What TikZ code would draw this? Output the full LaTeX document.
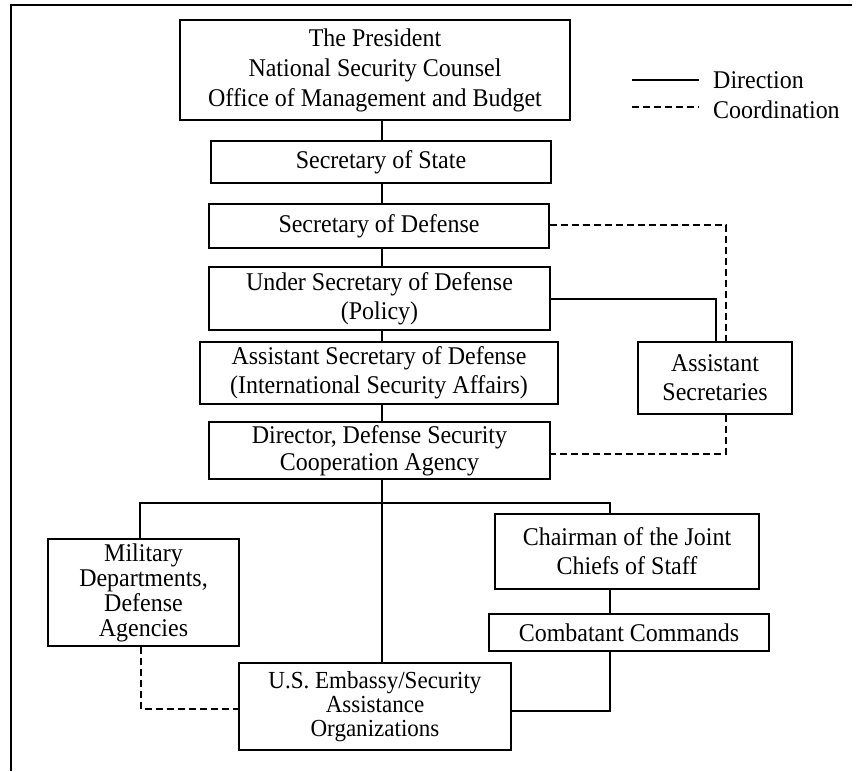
\documentclass[tikz,border=0pt]{standalone}
\usepackage{fontspec}
\setmainfont{Liberation Serif}[FakeStretch=0.94]
\begin{document}
\begin{tikzpicture}[x=1pt,y=1pt,
  box/.style={draw,line width=1.2pt,inner sep=0pt,align=center,
    font=\fontsize{25.5}{29}\selectfont},
  link/.style={line width=1.2pt},
  coord/.style={line width=1.2pt,dash pattern=on 7pt off 4pt},
  legtext/.style={anchor=base west,inner sep=0pt,font=\fontsize{25.5}{29}\selectfont}]
\useasboundingbox (0,0) rectangle (856,-771);
\draw[line width=2pt] (11,-771) -- (11,-5) -- (852,-5);

\node[box,minimum width=390,minimum height=100,font=\fontsize{25.5}{30}\selectfont] (pres) at (375,-70)
  {The President\\National Security Counsel\\Office of Management and Budget};
\node[box,minimum width=340,minimum height=42] (sos) at (381,-162) {Secretary of State};
\node[box,minimum width=340,minimum height=44] (sod) at (379,-226) {Secretary of Defense};
\node[box,minimum width=341,minimum height=63] (usd) at (379.5,-298.5)
  {Under Secretary of Defense\\(Policy)};
\node[box,minimum width=358,minimum height=62] (asd) at (379,-373)
  {Assistant Secretary of Defense\\(International Security Affairs)};
\node[box,minimum width=341,minimum height=57,font=\fontsize{25.5}{27}\selectfont] (dsca) at (379.5,-450.5)
  {Director, Defense Security\\Cooperation Agency};
\node[box,minimum width=154,minimum height=72] (as) at (715,-378)
  {Assistant\\Secretaries};
\node[box,minimum width=191,minimum height=107,font=\fontsize{25.5}{25}\selectfont] (mil) at (143.5,-592.5)
  {Military\\Departments,\\Defense\\Agencies};
\node[box,minimum width=272,minimum height=87,font=\fontsize{24.5}{24}\selectfont] (emb) at (375,-706.5)
  {U.S. Embassy/Security\\Assistance\\Organizations};
\node[box,minimum width=264,minimum height=75] (cjcs) at (627,-551.5)
  {Chairman of the Joint\\Chiefs of Staff};
\node[box,minimum width=280,minimum height=37] (cc) at (629,-632.5)
  {Combatant Commands};

% legend
\coordinate (l1a) at (632,-80);  \coordinate (l1b) at (699,-80);
\coordinate (l2a) at (632,-107); \coordinate (l2b) at (699,-107);
\draw[link] (l1a) -- (l1b);
\draw[coord] (l2a) -- (l2b);
\node[legtext] (ldir) at (713,-88) {Direction};
\node[legtext] (lcoo) at (713,-118) {Coordination};

% spine
\coordinate (spine) at (382,0);
\draw[link] (pres.south -| spine) -- (sos.north -| spine);
\draw[link] (sos.south -| spine) -- (sod.north -| spine);
\draw[link] (sod.south -| spine) -- (usd.north -| spine);
\draw[link] (usd.south -| spine) -- (asd.north -| spine);
\draw[link] (asd.south -| spine) -- (dsca.north -| spine);
\draw[link] (dsca.south -| spine) -- (emb.north -| spine);

% branch
\coordinate (bl) at (140,-503);
\coordinate (brr) at (610,-503);
\draw[link] (mil.north -| bl) -- (bl) -- (brr) -- (cjcs.north -| brr);
\draw[link] (cjcs.south -| brr) -- (cc.north -| brr);
\coordinate (e1) at (610,-711);
\draw[link] (cc.south -| brr) -- (e1) -- (e1 -| emb.east);

% USD to assistant secretaries
\coordinate (u1) at (716,-299);
\draw[link] (usd.east |- u1) -- (u1) -- (u1 |- as.north);

% coordination lines
\coordinate (d1) at (726,-225);
\coordinate (d2) at (726,-454);
\draw[coord] (sod.east |- d1) -- (d1) -- (d1 |- as.north);
\draw[coord] (as.south -| d2) -- (d2) -- (d2 -| dsca.east);
\coordinate (m1) at (141,-709);
\draw[coord] (mil.south -| m1) -- (m1) -- (m1 -| emb.west);
\end{tikzpicture}
\end{document}
